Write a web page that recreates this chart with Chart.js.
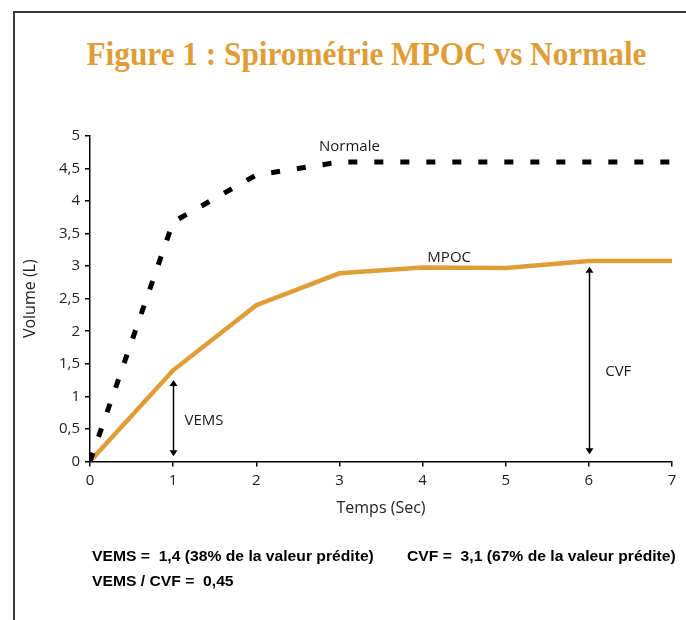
<!DOCTYPE html>
<html lang="fr">
<head>
<meta charset="utf-8">
<title>Spirométrie MPOC vs Normale</title>
<script src="https://cdn.jsdelivr.net/npm/chart.js@4"></script>
<style>
  html, body { margin: 0; padding: 0; background: #fff; }
  body { width: 686px; height: 620px; position: relative; overflow: hidden; }
  .frame { position: absolute; left: 13px; top: 11px; width: 760px; height: 700px; border: 2px solid #3a3a3a; box-sizing: border-box; }
  h1 { position: absolute; left: 0; top: 34.5px; width: 733px; margin: 0; text-align: center; line-height: 40px;
       font: bold 34px "Liberation Serif", "Times New Roman", serif; color: #df9d38; white-space: nowrap;
       transform: scaleX(0.92); transform-origin: 366.5px 50%; }
  .stats { position: absolute; top: 543px; font: bold 15px "Liberation Sans", Arial, sans-serif; line-height: 25px; color: #000;
           white-space: pre; transform: scaleX(1.045); transform-origin: 0 0; }
  #chart { position: absolute; left: 0; top: 0; }
</style>
</head>
<body>
<div class="frame"></div>
<h1>Figure 1 : Spirométrie MPOC vs Normale</h1>
<canvas id="chart" width="686" height="620"></canvas>
<div class="stats" style="left:92px">VEMS =  1,4 (38% de la valeur prédite)
VEMS / CVF =  0,45</div>
<div class="stats" style="left:407px">CVF =  3,1 (67% de la valeur prédite)</div>

<script>
// ---- data -----------------------------------------------------------------
const times = [0, 1, 2, 3, 4, 5, 6, 7];                       // Temps (Sec)
const normaleValues = [0, 3.68, 4.4, 4.6, 4.6, 4.6, 4.6, 4.6]; // Volume (L)
const mpocValues = [0, 1.4, 2.4, 2.89, 2.98, 2.97, 3.08, 3.08];

// measurement arrows (VEMS at 1 s, CVF at 6 s)
const arrowTimes = [1, 6];
const arrowLows = [0.08, 0.11];
const arrowHighs = [1.25, 2.99];

// text notes on the plot, anchored in data units (centre x, baseline y)
const noteTexts = ["Normale", "MPOC", "VEMS", "CVF"];
const noteTimes = [3.12, 4.32, 1.372, 6.354];
const noteVolumes = [4.77, 3.06, 0.566, 1.31];

const gold = "#df9d38";
const tickFont = { family: "'Open Sans', 'DejaVu Sans', sans-serif", size: 15 };
const titleFont = { family: "'Open Sans', 'DejaVu Sans', sans-serif", size: 16 };

const notesPlugin = {
  id: "spiroNotes",
  afterDatasetsDraw(chart) {
    const { ctx, scales: { x, y } } = chart;
    ctx.save();
    ctx.strokeStyle = "#000";
    ctx.fillStyle = "#000";
    ctx.lineWidth = 1.5;
    arrowTimes.forEach((t, i) => {
      const px = Math.round(x.getPixelForValue(t)) + 0.5;
      const top = y.getPixelForValue(arrowHighs[i]);
      const bottom = y.getPixelForValue(arrowLows[i]);
      ctx.beginPath();
      ctx.moveTo(px, top + 4);
      ctx.lineTo(px, bottom - 4);
      ctx.stroke();
      // heads
      ctx.beginPath();
      ctx.moveTo(px, top);
      ctx.lineTo(px - 4, top + 6);
      ctx.lineTo(px + 4, top + 6);
      ctx.closePath();
      ctx.fill();
      ctx.beginPath();
      ctx.moveTo(px, bottom);
      ctx.lineTo(px - 4, bottom - 6);
      ctx.lineTo(px + 4, bottom - 6);
      ctx.closePath();
      ctx.fill();
    });

    ctx.font = `${tickFont.size}px ${tickFont.family}`;
    ctx.fillStyle = "#1a1a1a";
    ctx.textAlign = "center";
    ctx.textBaseline = "alphabetic";
    noteTexts.forEach((txt, i) => {
      ctx.fillText(txt, x.getPixelForValue(noteTimes[i]), y.getPixelForValue(noteVolumes[i]));
    });
    ctx.restore();
  },
};

new Chart(document.getElementById("chart"), {
  type: "line",
  data: {
    datasets: [
      {
        label: "Normale",
        data: times.map((t, i) => ({ x: t, y: normaleValues[i] })),
        borderColor: "#000",
        borderWidth: 5,
        borderDash: [9, 17],
        borderCapStyle: "butt",
        pointRadius: 0,
        tension: 0,
      },
      {
        label: "MPOC",
        data: times.map((t, i) => ({ x: t, y: mpocValues[i] })),
        borderColor: gold,
        borderWidth: 4.5,
        pointRadius: 0,
        tension: 0,
      },
    ],
  },
  options: {
    responsive: false,
    animation: false,
    layout: { padding: { left: 14, right: 14, top: 136, bottom: 98 } },
    plugins: { legend: { display: false }, tooltip: { enabled: false } },
    scales: {
      x: {
        type: "linear",
        min: 0,
        max: 7,
        ticks: { stepSize: 1, color: "#222", font: tickFont, padding: 5.5 },
        grid: { drawOnChartArea: false, drawTicks: true, tickLength: 5, color: "#000", lineWidth: 1.5 },
        border: { display: true, color: "#000", width: 1.5 },
        title: { display: true, text: "Temps (Sec)", color: "#222", font: titleFont, padding: { top: 3.4, bottom: 4 } },
      },
      y: {
        min: 0,
        max: 5,
        afterFit(scale) { scale.width = 76; },
        ticks: { stepSize: 0.5, color: "#222", font: tickFont, padding: 5, callback: (v) => String(v).replace(".", ",") },
        grid: { drawOnChartArea: false, drawTicks: true, tickLength: 5, color: "#000", lineWidth: 1.5 },
        border: { display: true, color: "#000", width: 1.5 },
        title: { display: true, text: "Volume (L)", color: "#222", font: titleFont, padding: { top: 6.4, bottom: 0 } },
      },
    },
  },
  plugins: [notesPlugin],
});
</script>
</body>
</html>
